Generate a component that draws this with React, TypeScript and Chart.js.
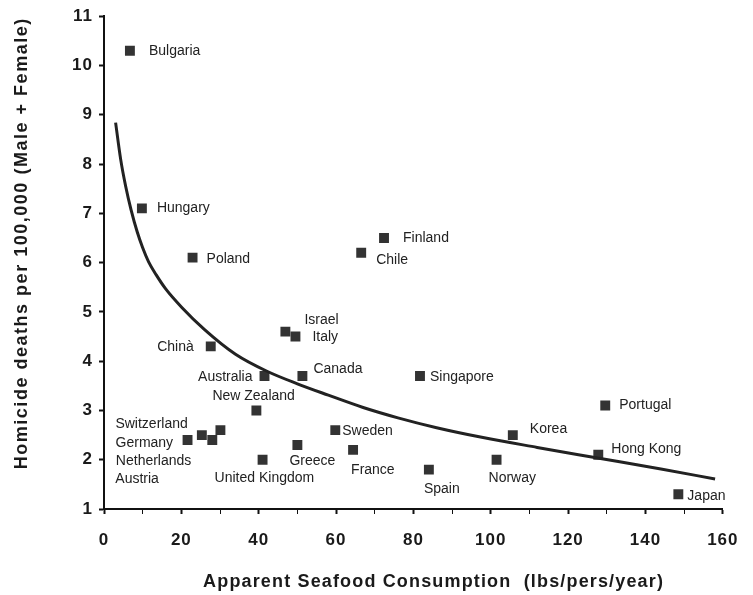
import React, { useEffect, useRef } from "react";
import { Chart, registerables } from "chart.js";

Chart.register(...registerables);

// ---- Data ----
const countries = [
  "Bulgaria", "Hungary", "Poland", "Chile", "Finland", "Israel", "Italy", "Chinà",
  "Australia", "Canada", "New Zealand", "Singapore", "Portugal", "Korea", "Hong Kong",
  "Norway", "Spain", "Japan", "Sweden", "France", "Greece", "United Kingdom",
  "Switzerland", "Germany", "Netherlands", "Austria",
];
const seafood = [
  6.7, 9.8, 22.9, 66.5, 72.4, 46.9, 49.5, 27.6,
  41.5, 51.3, 39.4, 81.7, 129.6, 105.7, 127.8,
  101.5, 84.0, 148.5, 59.8, 64.4, 50.0, 41.0,
  30.1, 21.6, 25.3, 28.0,
];
const homicide = [
  10.3, 7.1, 6.1, 6.2, 6.5, 4.6, 4.5, 4.3,
  3.7, 3.7, 3.0, 3.7, 3.1, 2.5, 2.1,
  2.0, 1.8, 1.3, 2.6, 2.2, 2.3, 2.0,
  2.6, 2.4, 2.5, 2.4,
];
const curveX = [3.0, 4.3, 5.6, 7.0, 8.6, 10, 11.5, 13.5, 16, 20, 26, 34, 42, 50, 58, 67, 76, 86, 98, 112, 128, 144, 158];
const curveY = [8.84, 8.1, 7.55, 7.07, 6.62, 6.3, 6.02, 5.75, 5.46, 5.1, 4.64, 4.14, 3.8, 3.54, 3.31, 3.06, 2.85, 2.65, 2.45, 2.25, 2.03, 1.81, 1.61];

const xTitle = "Apparent Seafood Consumption  (lbs/pers/year)";
const yTitle = "Homicide deaths per 100,000 (Male + Female)";

// ---- Label placement (pixel offsets from each marker) ----
const labelPlacement: [number, number, CanvasTextAlign][] = [
  [19, 0, "left"], [15, 0, "left"], [14, 1, "left"], [15, 7, "left"], [19, 0, "left"],
  [19, -11, "left"], [17, 1, "left"], [-17, 1, "right"], [-12, 1, "right"], [11, -7, "left"],
  [-44, -14, "left"], [10, 1, "left"], [14, 0, "left"], [17, -6, "left"], [13, -6, "left"],
  [-8, 18, "left"], [-5, 20, "left"], [9, 2, "left"], [7, 1, "left"], [-2, 20, "left"],
  [-8, 16, "left"], [-48, 18, "left"],
  [-105, -6, "left"], [-72, 3, "left"], [-86, 26, "left"], [-97, 39, "left"],
];

const FONT = "'Liberation Sans', Arial, Helvetica, sans-serif";

const spacingPlugin = {
  id: "tickSpacing",
  beforeDraw(chart: any) {
    (chart.ctx as any).letterSpacing = "1px";
  },
};

const labelPlugin = {
  id: "countryLabels",
  afterDatasetsDraw(chart: any) {
    const ctx = chart.ctx;
    const meta = chart.getDatasetMeta(1);
    ctx.save();
    (ctx as any).letterSpacing = "0px";
    ctx.font = `14px ${FONT}`;
    ctx.fillStyle = "#222";
    ctx.textBaseline = "middle";
    meta.data.forEach((pt: any, i: number) => {
      const [dx, dy, align] = labelPlacement[i];
      ctx.textAlign = align;
      ctx.fillText(countries[i], pt.x + dx, pt.y + dy);
    });
    ctx.restore();
  },
};

function drawSpaced(ctx: any, text: string, cx: number, cy: number, target: number) {
  ctx.letterSpacing = "0px";
  const w = ctx.measureText(text).width;
  const ls = Math.max(0, (target - w) / text.length);
  ctx.letterSpacing = `${ls}px`;
  ctx.fillText(text, cx + ls / 2, cy);
}

const titlePlugin = {
  id: "axisTitles",
  afterDraw(chart: any) {
    const ctx = chart.ctx;
    ctx.save();
    ctx.fillStyle = "#1a1a1a";
    ctx.font = `bold 18px ${FONT}`;
    ctx.textAlign = "center";
    ctx.textBaseline = "middle";
    drawSpaced(ctx, xTitle, 433, 582, 461);
    ctx.translate(22, 244);
    ctx.rotate(-Math.PI / 2);
    drawSpaced(ctx, yTitle, 0, 0, 452);
    ctx.restore();
  },
};

export default function App() {
  const ref = useRef<HTMLCanvasElement>(null);
  useEffect(() => {
    if (!ref.current) return;
    const chart = new Chart(ref.current, {
      type: "scatter",
      data: {
        datasets: [
          {
            type: "line",
            data: curveX.map((x, i) => ({ x, y: curveY[i] })),
            borderColor: "#222",
            borderWidth: 3,
            pointRadius: 0,
            cubicInterpolationMode: "monotone",
            fill: false,
          } as any,
          {
            data: seafood.map((x, i) => ({ x, y: homicide[i] })),
            pointStyle: "rect",
            pointRadius: 7,
            backgroundColor: "#333",
            borderColor: "#333",
            borderWidth: 0,
          },
        ],
      },
      options: {
        animation: false,
        responsive: false,
        layout: { padding: { left: 0, top: 16, right: 28, bottom: 0 } },
        plugins: { legend: { display: false }, tooltip: { enabled: false } },
        scales: {
          x: {
            type: "linear",
            min: 0,
            max: 160,
            afterFit: (s: any) => { s.height = 86; },
            border: { color: "#111", width: 2 },
            grid: {
              drawOnChartArea: false,
              drawTicks: true,
              tickLength: 5,
              tickColor: "#111",
              tickWidth: (c: any) => (c.tick && c.tick.value % 20 === 0 ? 2 : 1),
            },
            ticks: {
              stepSize: 10,
              autoSkip: false,
              maxRotation: 0,
              padding: 16,
              color: "#1a1a1a",
              font: { family: FONT, size: 17, weight: "bold" },
              callback: (v: any) => (Number(v) % 20 === 0 ? String(v) : ""),
            },
          },
          y: {
            type: "linear",
            min: 1,
            max: 11,
            afterFit: (s: any) => { s.width = 104; },
            border: { color: "#111", width: 2 },
            grid: {
              drawOnChartArea: false,
              drawTicks: true,
              tickLength: 5,
              tickColor: "#111",
              tickWidth: 2,
            },
            ticks: {
              stepSize: 1,
              padding: 6,
              color: "#1a1a1a",
              font: { family: FONT, size: 17, weight: "bold" },
            },
          },
        },
      } as any,
      plugins: [spacingPlugin, labelPlugin, titlePlugin],
    });
    return () => chart.destroy();
  }, []);
  return (
    <div style={{ position: "fixed", left: 0, top: 0, width: 753, height: 595, background: "#fff" }}>
      <canvas ref={ref} width={753} height={595} />
    </div>
  );
}
